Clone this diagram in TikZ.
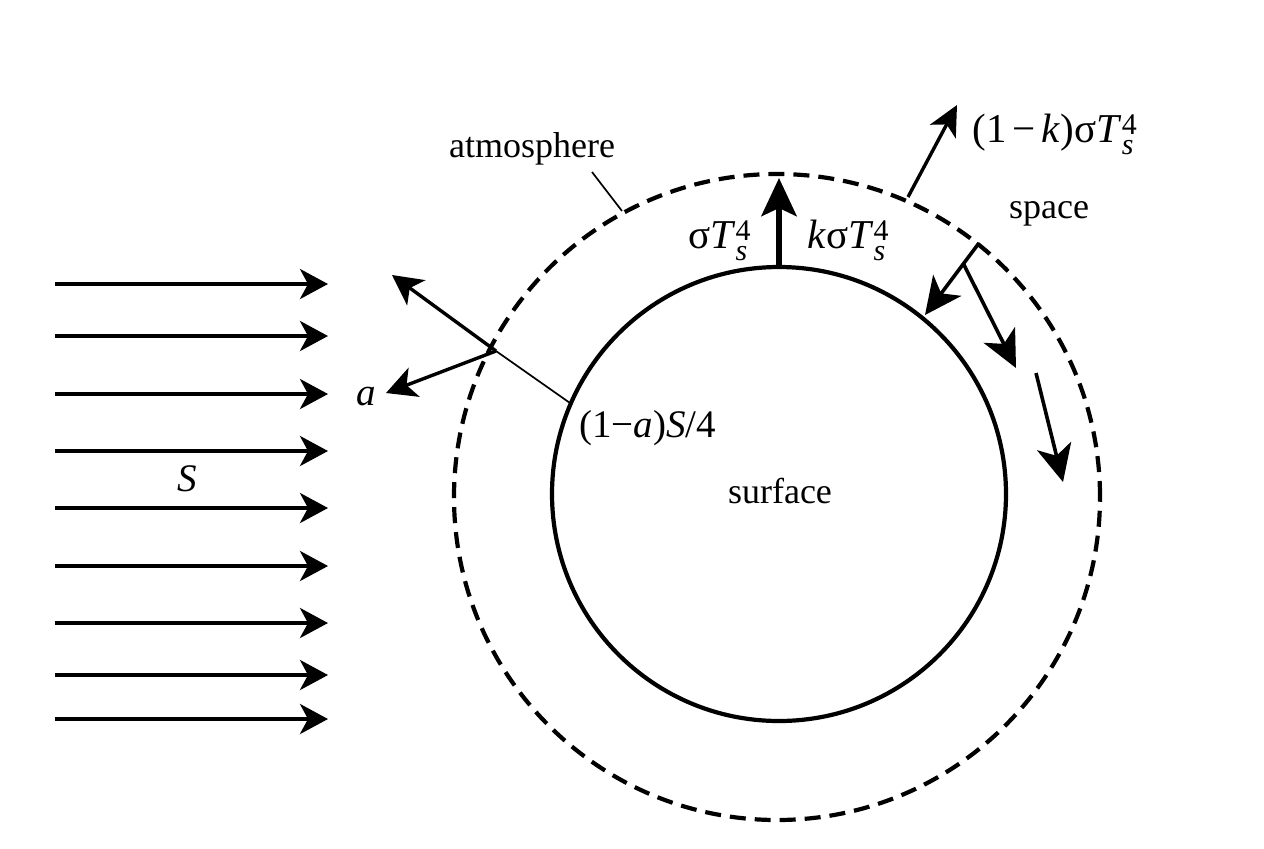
\documentclass[tikz,border=0pt]{standalone}
\usepackage{amsmath}
\usepackage{fontspec}
\setmainfont{Liberation Serif}
\usetikzlibrary{arrows.meta}
\newcommand{\sigT}{σ\textit{T}\rlap{\raisebox{-6pt}{\fontsize{15}{16}\selectfont\textit{s}}}\raisebox{4pt}{\fontsize{15}{16}\selectfont 4}}
\tikzset{
  lbl/.style={inner sep=0pt, font=\fontsize{18}{21}\selectfont},
  mlbl/.style={inner sep=0pt, font=\fontsize{19.5}{22}\selectfont},
  tlbl/.style={inner sep=0pt, font=\fontsize{20.5}{23}\selectfont},
  sarrow/.style={line width=1.9pt, -{Stealth[length=14pt,width=15pt,inset=4pt]}},
  rarrow/.style={line width=1.7pt, -{Stealth[length=15pt,width=15.5pt,inset=4pt]}},
  thickarrow/.style={line width=3.2pt, -{Stealth[length=19pt,width=17.5pt,inset=4pt]}},
  karrow/.style={line width=1.7pt, -{Stealth[length=15pt,width=14.5pt,inset=4pt]}},
  darrow/.style={line width=1.8pt, -{Stealth[length=18.5pt,width=17.5pt,inset=5pt]}},
  thin/.style={line width=0.85pt},
  atmo/.style={line width=2.1pt, dash pattern=on 8pt off 4.5pt},
  surfline/.style={line width=2.1pt}
}
\begin{document}
\begin{tikzpicture}[x=0.5pt,y=-0.5pt]
\useasboundingbox (0,0) rectangle (1264,848);
% circles
\node (atm) [draw, atmo, circle, inner sep=0pt, minimum size=323pt] at (777,497) {};
\node (surf) [draw, surfline, circle, inner sep=0pt, minimum size=227pt] at (779,494) {};
% incoming solar arrows
\foreach \i/\yy in {1/284,2/336,3/394,4/451,5/508,6/566,7/623,8/675,9/719}{
  \coordinate (sl\i) at (55,\yy);
  \coordinate (sr\i) at (328,\yy);
  \draw[sarrow] (sl\i) -- (sr\i);
}
\node[mlbl, anchor=base] (S) at (187,491) {\textit{S}};
% reflection point
\coordinate (refl) at (496,351);
\coordinate (reflup) at (392,275);
\coordinate (refla) at (386,393);
\coordinate (surfin) at (570,403);
\draw[rarrow] (refl) -- (reflup);
\draw[rarrow] (refl) -- (refla);
\draw[thin] (refl) -- (surfin);
\node[mlbl, anchor=base] (a) at (366,405) {\textit{a}};
\node[mlbl, anchor=base west] (absorbed) at (579,437) {(1−\textit{a})\textit{S}/4};
% atmosphere label
\node[lbl, anchor=base] (atmlbl) at (532,157) {atmosphere};
\coordinate (atmlead1) at (592,172);
\coordinate (atmlead2) at (622,211);
\draw[thin] (atmlead1) -- (atmlead2);
% surface label
\node[lbl, anchor=base] (surflbl) at (780,503) {surface};
% upward emission
\coordinate (emitbase) at (779,266);
\coordinate (emittip) at (779,178);
\draw[thickarrow] (emitbase) -- (emittip);
\node[tlbl, anchor=base east] (sigl) at (751,248) {\sigT};
\node[tlbl, anchor=base west] (ksig) at (807,248) {\textit{k}\sigT};
% escape to space
\coordinate (escbase) at (908,197);
\coordinate (esctip) at (957,105);
\draw[karrow] (escbase) -- (esctip);
\node[tlbl, anchor=base west] (esclbl) at (972,142) {(1\hspace{0.15em}−\hspace{0.15em}\textit{k})\sigT};
\node[lbl, anchor=base] (space) at (1049,218) {space};
% back radiation
\coordinate (backbase) at (979,243);
\coordinate (backtip) at (925,315);
\coordinate (branch) at (963,263);
\coordinate (downtip) at (1016,368);
\coordinate (d3base) at (1036,373);
\coordinate (d3tip) at (1063,482);
\draw[darrow] (backbase) -- (backtip);
\draw[darrow] (branch) -- (downtip);
\draw[darrow] (d3base) -- (d3tip);
\end{tikzpicture}
\end{document}
